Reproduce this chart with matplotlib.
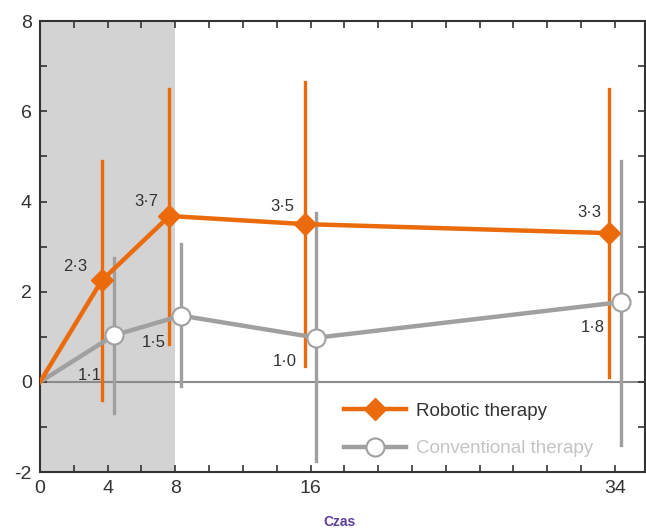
import matplotlib.pyplot as plt
from matplotlib.ticker import MultipleLocator

plt.rcParams['font.family'] = ['Liberation Sans', 'DejaVu Sans']

# dane
weeks = [0, 4, 8, 16, 34]
robotic = [0, 2.25, 3.68, 3.5, 3.3]
robotic_lo = [None, -0.4, 0.85, 0.35, 0.1]
robotic_hi = [None, 4.9, 6.5, 6.65, 6.5]
conventional = [0, 1.03, 1.47, 0.98, 1.77]
conv_lo = [None, -0.7, -0.1, -1.75, -1.4]
conv_hi = [None, 2.75, 3.05, 3.75, 4.9]
robotic_labels = ['2·3', '3·7', '3·5', '3·3']
conv_labels = ['1·1', '1·5', '1·0', '1·8']
y_ticks = [-2, 0, 2, 4, 6, 8]
y_ticklabels = ['-2', '0', '2', '4', '6', '8']

orange = '#ea6a0c'
grey = '#a0a0a0'
txt = '#333333'

fig = plt.figure(figsize=(6.46, 5.31), dpi=100)
ax = fig.add_axes([0.062, 0.111, 0.937, 0.849])

ax.axvspan(0, 8, color='#d3d3d3', zorder=0, lw=0)
ax.axhline(0, color='#8a8a8a', lw=1.5, zorder=1)

# przesunięcie punktów, żeby się nie nakładały
shift = 0.35
rx = [w - shift if w else 0 for w in weeks]
cx = [w + shift if w else 0 for w in weeks]

for i in range(1, len(weeks)):
    ax.plot([rx[i], rx[i]], [robotic_lo[i], robotic_hi[i]], color=orange, lw=2.4, zorder=2)
    ax.plot([cx[i], cx[i]], [conv_lo[i], conv_hi[i]], color=grey, lw=2.4, zorder=2)

ax.plot(cx, conventional, color=grey, lw=3.2, zorder=3,
        marker='o', markersize=13, markerfacecolor='white', markeredgecolor=grey,
        markeredgewidth=1.5, markevery=list(range(1, len(weeks))),
        label='Conventional therapy')
ax.plot(rx, robotic, color=orange, lw=3.2, zorder=4,
        marker='D', markersize=11, markerfacecolor=orange, markeredgecolor=orange,
        markevery=list(range(1, len(weeks))), label='Robotic therapy')

# etykiety wartości
r_pos = [(2.07, 2.55), (6.3, 4.0), (14.3, 3.9), (32.5, 3.75)]
c_pos = [(2.96, 0.15), (6.7, 0.88), (14.5, 0.45), (32.7, 1.2)]
for (x, y), s in zip(r_pos, robotic_labels):
    ax.text(x, y, s, ha='center', va='center', fontsize=12, color=txt)
for (x, y), s in zip(c_pos, conv_labels):
    ax.text(x, y, s, ha='center', va='center', fontsize=12, color=txt)

ax.set_xlim(0, 35.8)
ax.set_ylim(-2, 8)
ax.set_xticks([0, 4, 8, 16, 34])
ax.set_yticks(y_ticks)
ax.set_yticklabels(y_ticklabels)
ax.xaxis.set_minor_locator(MultipleLocator(2))
ax.yaxis.set_minor_locator(MultipleLocator(1))
ax.tick_params(which='both', direction='in', top=True, right=True,
               labelsize=14, colors='#333333', length=5, width=1.2)
ax.tick_params(which='major', pad=6)
for sp in ax.spines.values():
    sp.set_color('#333333')
    sp.set_linewidth(1.5)

handles, labels = ax.get_legend_handles_labels()
leg = ax.legend(handles[::-1], labels[::-1], loc='lower left',
                bbox_to_anchor=(0.475, -0.005), frameon=False, fontsize=13.5,
                handlelength=3.3, labelspacing=1.1, handletextpad=0.5)
leg.get_texts()[0].set_color('#333333')
leg.get_texts()[1].set_color('#c4c4c4')

fig.text(0.526, 0.004, 'Czas', ha='center', va='bottom', fontsize=10,
         fontweight='bold', color='#5e3e99')

fig.savefig('out.png', dpi=100)
